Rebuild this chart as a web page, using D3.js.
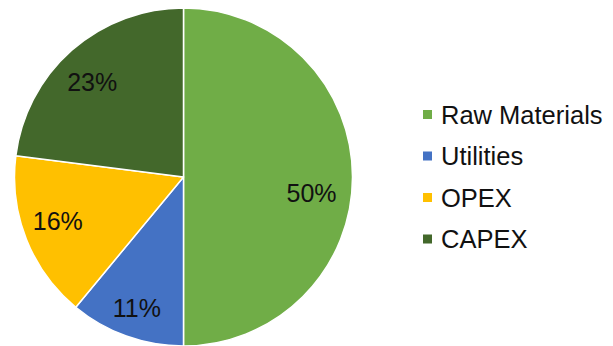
<!DOCTYPE html>
<html>
<head>
<meta charset="utf-8">
<script src="https://cdn.jsdelivr.net/npm/d3@7/dist/d3.min.js"></script>
<style>
  html, body { margin: 0; padding: 0; background: #fff; }
  svg { display: block; }
  text { font-family: "Liberation Sans", Arial, sans-serif; }
</style>
</head>
<body>
<svg id="chart" width="613" height="346"></svg>
<script>
// Cost split by category (percent of total)
const categories = ["Raw Materials", "Utilities", "OPEX", "CAPEX"];
const shares = [50, 11, 16, 23];
const colors = ["#70AD47", "#4472C4", "#FFC000", "#43682B"];

const svg = d3.select("#chart");
const cx = 183.5, cy = 177, radius = 169;

const pie = d3.pie().sort(null).value(d => d.value);
const arcs = pie(categories.map((c, i) => ({ name: c, value: shares[i], color: colors[i] })));

const arc = d3.arc().innerRadius(0).outerRadius(radius);
const labelArc = d3.arc().innerRadius(132).outerRadius(132);
// small per-slice label offsets, best-fit style placement
const labelShift = [[-4, 16], [-2, 7], [-3, -5], [-4, 4]];

const g = svg.append("g").attr("transform", `translate(${cx},${cy})`);

g.selectAll("path.slice")
  .data(arcs)
  .join("path")
  .attr("class", "slice")
  .attr("d", arc)
  .attr("fill", d => d.data.color)
  .attr("stroke", "#fff")
  .attr("stroke-width", 1.5)
  .attr("stroke-linejoin", "round");

g.selectAll("text.pct")
  .data(arcs)
  .join("text")
  .attr("class", "pct")
  .attr("transform", (d, i) => {
    const [x, y] = labelArc.centroid(d);
    return `translate(${x + labelShift[i][0]},${y + labelShift[i][1]})`;
  })
  .attr("text-anchor", "middle")
  .attr("dy", "0.36em")
  .attr("font-size", 25)
  .attr("fill", "#111")
  .text(d => d3.format(".0%")(d.data.value / 100));

// Legend
const legend = svg.append("g").attr("transform", "translate(423,0)");
const rowY = d3.scalePoint().domain(categories).range([114.5, 239]);

const rows = legend.selectAll("g.row")
  .data(categories)
  .join("g")
  .attr("class", "row")
  .attr("transform", d => `translate(0,${rowY(d)})`);

rows.append("rect")
  .attr("x", 0)
  .attr("y", -4.5)
  .attr("width", 9)
  .attr("height", 9)
  .attr("fill", (d, i) => colors[i]);

rows.append("text")
  .attr("x", 18)
  .attr("dy", "0.36em")
  .attr("font-size", 25.5)
  .attr("fill", "#111")
  .text(d => d);
</script>
</body>
</html>
